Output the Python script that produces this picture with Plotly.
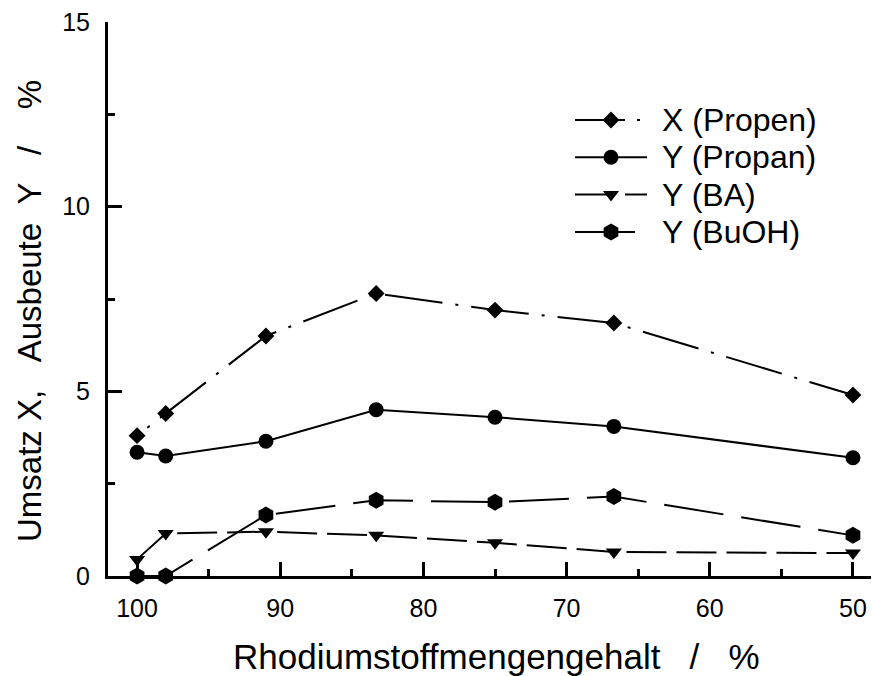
import plotly.graph_objects as go

# Rhodium content (mol-%) of the catalyst series
rh_content = [100, 98, 91, 83.3, 75, 66.7, 50]

# Conversion X of propene and yields Y of the products (%)
x_propen = [3.8, 4.4, 6.5, 7.65, 7.2, 6.85, 4.9]
y_propan = [3.35, 3.25, 3.65, 4.5, 4.3, 4.05, 3.2]
y_ba = [0.45, 1.15, 1.2, 1.1, 0.9, 0.65, 0.62]
y_buoh = [0, 0, 1.65, 2.05, 2.0, 2.15, 1.1]

series_names = ["X (Propen)", "Y (Propan)", "Y (BA)", "Y (BuOH)"]
series_values = [x_propen, y_propan, y_ba, y_buoh]

FONT = "Arial, Liberation Sans, Helvetica, sans-serif"
W, H = 874, 676
M_L, M_R, M_T, M_B = 108, 3, 22, 100

# curve dash starts with the gap-dot phase; the key sample starts on the dash
styles = [
    dict(symbol="diamond", size=13, dash="0px,13px,3px,13px,58px,0px",
         key_dash="50px,12px,3px,10px"),
    dict(symbol="circle", size=15, dash="solid", key_dash="solid"),
    dict(symbol="triangle-down", size=14, dash="40px,10px",
         key_dash="40px,10px"),
    dict(symbol="hexagon", size=17, dash="60px,18px", key_dash="60px,18px"),
]

fig = go.Figure()

for name, vals, st in zip(series_names, series_values, styles):
    fig.add_trace(go.Scatter(
        x=rh_content, y=vals, name=name, mode="lines+markers",
        line=dict(color="black", width=2, dash=st["dash"]),
        marker=dict(symbol=st["symbol"], size=st["size"], color="black",
                    line=dict(width=0)),
        showlegend=False, cliponaxis=False,
    ))

# Hand-drawn key on an overlay axis measured in pixels of the plot area
key_x0, key_x1, key_text_x = 575, 647, 660
key_y0, key_dy = 120, 37.3
for i, (name, st) in enumerate(zip(series_names, styles)):
    ky = key_y0 + i * key_dy
    fig.add_trace(go.Scatter(
        x=[key_x0, key_x1], y=[ky, ky], mode="lines",
        line=dict(color="black", width=2, dash=st["key_dash"]),
        xaxis="x2", yaxis="y2", showlegend=False, hoverinfo="skip",
    ))
    fig.add_trace(go.Scatter(
        x=[(key_x0 + key_x1) / 2], y=[ky], mode="markers",
        marker=dict(symbol=st["symbol"], size=st["size"], color="black",
                    line=dict(width=0)),
        xaxis="x2", yaxis="y2", showlegend=False, hoverinfo="skip",
    ))
    fig.add_annotation(
        x=key_text_x, y=ky, xref="x2", yref="y2", text=name,
        showarrow=False, xanchor="left", yanchor="middle",
        font=dict(family=FONT, size=32, color="black"),
    )

NB = "\u00a0"
fig.add_annotation(
    x=(496 - M_L) / (W - M_L - M_R), y=-(656 - (H - M_B)) / (H - M_T - M_B),
    xref="paper", yref="paper", showarrow=False,
    text=f"Rhodiumstoffmengengehalt{NB*3}/{NB*3}%",
    xanchor="center", yanchor="middle",
    font=dict(family=FONT, size=35, color="black"),
)
fig.add_annotation(
    x=(29 - M_L) / (W - M_L - M_R), y=((H - M_B) - 311) / (H - M_T - M_B),
    xref="paper", yref="paper", showarrow=False, textangle=-90,
    text=f"Umsatz X,{NB*3}Ausbeute{NB*2}Y{NB*3}/{NB*4}%",
    xanchor="center", yanchor="middle",
    font=dict(family=FONT, size=33, color="black"),
)

fig.update_layout(
    width=W, height=H,
    margin=dict(l=M_L, r=M_R, t=M_T, b=M_B, pad=0),
    paper_bgcolor="white", plot_bgcolor="white",
    font=dict(family=FONT, color="black"),
    showlegend=False,
    xaxis=dict(
        range=[102.03, 48.74], showgrid=False, zeroline=False,
        showline=True, linecolor="black", linewidth=3,
        ticks="inside", ticklen=14, tickwidth=2.5, tickcolor="black",
        tickvals=[100, 90, 80, 70, 60, 50],
        tickfont=dict(family=FONT, size=25, color="black"),
        ticklabelstandoff=8,
        minor=dict(ticks="inside", ticklen=7, tickwidth=2.5,
                   tickcolor="black", dtick=5, tick0=50, showgrid=False),
    ),
    yaxis=dict(
        range=[0, 15], showgrid=False, zeroline=False,
        showline=True, linecolor="black", linewidth=3,
        ticks="inside", ticklen=14, tickwidth=2.5, tickcolor="black",
        tickvals=[0, 5, 10, 15],
        tickfont=dict(family=FONT, size=25, color="black"),
        ticklabelstandoff=10,
        minor=dict(ticks="inside", ticklen=7, tickwidth=2.5,
                   tickcolor="black", dtick=2.5, tick0=0, showgrid=False),
    ),
    xaxis2=dict(overlaying="x", range=[M_L, W - M_R], visible=False,
                fixedrange=True),
    yaxis2=dict(overlaying="y", range=[H - M_B, M_T], visible=False,
                fixedrange=True),
)

fig.write_html("out.html")
